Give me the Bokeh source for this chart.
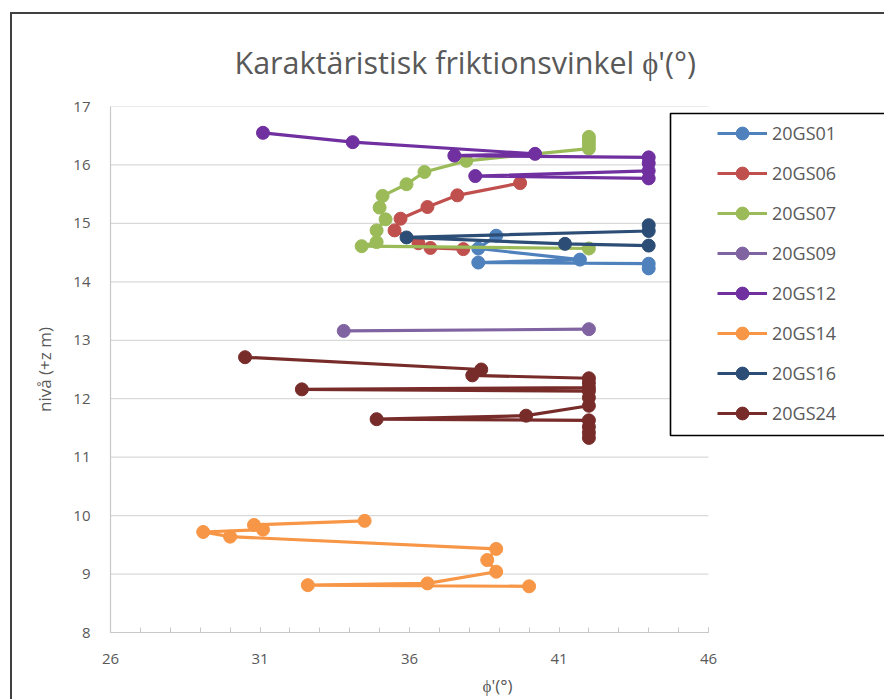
from bokeh.plotting import figure
from bokeh.models import Range1d, FixedTicker, Legend, LegendItem, BoxAnnotation
from bokeh.embed import file_html
from bokeh.resources import INLINE

# ---- data ----
series_names = ["20GS01", "20GS06", "20GS07", "20GS09", "20GS12", "20GS14", "20GS16", "20GS24"]
series_colors = ["#4F81BD", "#C0504D", "#9BBB59", "#8064A2", "#7030A0", "#F79646", "#2C4D75", "#772C2A"]

gs01_x = [38.9, 38.3, 41.7, 38.3, 44.0, 44.0]
gs01_y = [14.79, 14.57, 14.38, 14.33, 14.31, 14.23]

gs06_x = [39.7, 37.6, 36.6, 35.7, 35.5, 36.3, 36.7, 37.8]
gs06_y = [15.69, 15.48, 15.28, 15.08, 14.88, 14.66, 14.58, 14.56]

gs07_x = [42.0, 42.0, 42.0, 42.0, 37.9, 36.5, 35.9, 35.1, 35.0, 35.2, 34.9, 34.9, 34.4, 42.0]
gs07_y = [16.48, 16.42, 16.35, 16.28, 16.07, 15.88, 15.67, 15.47, 15.27, 15.07, 14.88, 14.68, 14.61, 14.57]

gs09_x = [33.8, 42.0]
gs09_y = [13.16, 13.19]

gs12_x = [31.1, 34.1, 40.2, 37.5, 44.0, 44.0, 44.0, 38.2, 44.0]
gs12_y = [16.55, 16.39, 16.19, 16.16, 16.13, 16.03, 15.90, 15.81, 15.77]

gs14_x = [34.5, 30.8, 31.1, 29.1, 30.0, 38.9, 38.6, 38.9, 36.6, 32.6, 40.0]
gs14_y = [9.91, 9.84, 9.76, 9.72, 9.64, 9.43, 9.24, 9.04, 8.84, 8.81, 8.79]

gs16_x = [44.0, 44.0, 35.9, 41.2, 44.0]
gs16_y = [14.97, 14.87, 14.76, 14.65, 14.62]

gs24_x = [30.5, 38.4, 38.1, 42.0, 42.0, 42.0, 32.4, 42.0, 42.0, 42.0, 39.9, 34.9, 42.0, 42.0, 42.0, 42.0]
gs24_y = [12.71, 12.50, 12.40, 12.35, 12.27, 12.19, 12.16, 12.13, 12.02, 11.88, 11.71, 11.65, 11.63, 11.52, 11.42, 11.33]

x_min, x_max = 26, 46
y_min, y_max = 8, 17
x_major_ticks = [26, 31, 36, 41, 46]
y_ticks = [8, 9, 10, 11, 12, 13, 14, 15, 16, 17]

title_text = "Karaktäristisk friktionsvinkel ϕ'(°)"
x_label = "ϕ'(°)"
y_label = "nivå (+z m)"

all_x = [gs01_x, gs06_x, gs07_x, gs09_x, gs12_x, gs14_x, gs16_x, gs24_x]
all_y = [gs01_y, gs06_y, gs07_y, gs09_y, gs12_y, gs14_y, gs16_y, gs24_y]

FONT = "Open Sans"
GRAY = "#595959"
GRID = "#D9D9D9"

# plot area: 26..46 spans 598 px; the frame is widened to the right edge so the legend box fits
FRAME_W = 774
PX_PER_UNIT = 598 / (x_max - x_min)
x_end = x_min + FRAME_W / PX_PER_UNIT

p = figure(
    frame_width=FRAME_W, frame_height=526,
    min_border_left=110, min_border_right=0, min_border_top=106, min_border_bottom=60,
    x_range=Range1d(x_min, x_end), y_range=Range1d(y_min, y_max),
    output_backend="svg", toolbar_location=None,
)
p.styles = {
    "background": (
        "linear-gradient(#404040, #404040) 10px 12px / 2px calc(100% - 12px) no-repeat, "
        "linear-gradient(#404040, #404040) 10px 12px / calc(100% - 10px) 2px no-repeat, #ffffff"
    )
}

p.title.text = title_text
p.title.text_font = FONT
p.title.text_font_size = "30.5px"
p.title.text_font_style = "normal"
p.title.text_color = GRAY
p.title.align = "left"
p.title.offset = 124
p.title.standoff = 48

p.outline_line_color = None
p.background_fill_color = "white"
p.border_fill_color = None

p.xgrid.grid_line_color = None
p.ygrid.grid_line_color = None
# horizontal gridlines, only across the 26..46 span
p.segment(x0=[x_min] * len(y_ticks), y0=y_ticks, x1=[x_max] * len(y_ticks), y1=y_ticks,
          line_color=GRID, line_width=1.2, level="underlay")

p.xaxis.ticker = FixedTicker(ticks=x_major_ticks, minor_ticks=list(range(x_min, x_max + 1)))
p.xaxis.bounds = (x_min, x_max)
p.yaxis.ticker = FixedTicker(ticks=y_ticks)

for ax in (p.xaxis, p.yaxis):
    ax.axis_line_color = "#C8C8C8"
    ax.axis_line_width = 1.2
    ax.major_label_text_font = FONT
    ax.major_label_text_font_size = "15px"
    ax.major_label_text_color = GRAY
    ax.axis_label_text_font = FONT
    ax.axis_label_text_font_style = "normal"
    ax.axis_label_text_color = GRAY
    ax.axis_label_text_font_size = "17px"

p.xaxis.major_tick_line_color = "#C8C8C8"
p.xaxis.minor_tick_line_color = "#C8C8C8"
p.xaxis.major_tick_in = 5
p.xaxis.major_tick_out = 0
p.xaxis.minor_tick_in = 5
p.xaxis.minor_tick_out = 0
p.xaxis.major_label_standoff = 21
p.xaxis.axis_label = x_label
p.xaxis.axis_label_standoff = 7

p.yaxis.major_tick_line_color = None
p.yaxis.minor_tick_line_color = None
p.yaxis.major_tick_in = 0
p.yaxis.major_tick_out = 0
p.yaxis.major_label_standoff = 20
p.yaxis.axis_label = y_label
p.yaxis.axis_label_standoff = 14

items = []
for name, color, xs, ys in zip(series_names, series_colors, all_x, all_y):
    ln = p.line(xs, ys, line_color=color, line_width=3.2)
    sc = p.scatter(xs, ys, size=13, fill_color=color, line_color=color)
    items.append(LegendItem(label=name, renderers=[ln, sc]))

legend_box = BoxAnnotation(
    left=670, right=920, top=113, bottom=435,
    left_units="canvas", right_units="canvas", top_units="canvas", bottom_units="canvas",
    fill_color="white", fill_alpha=1, line_color="#000000", line_alpha=1, line_width=1.6,
    level="annotation",
)
p.add_layout(legend_box)

legend = Legend(
    items=items, location=(607, 203),
    border_line_color=None, background_fill_alpha=0,
    padding=0, margin=0,
    glyph_width=50, glyph_height=32, label_height=32, spacing=8,
    label_standoff=5,
    label_text_font=FONT, label_text_font_size="18px", label_text_color=GRAY,
)
p.add_layout(legend, "center")

open("out.html", "w").write(file_html(p, INLINE))
